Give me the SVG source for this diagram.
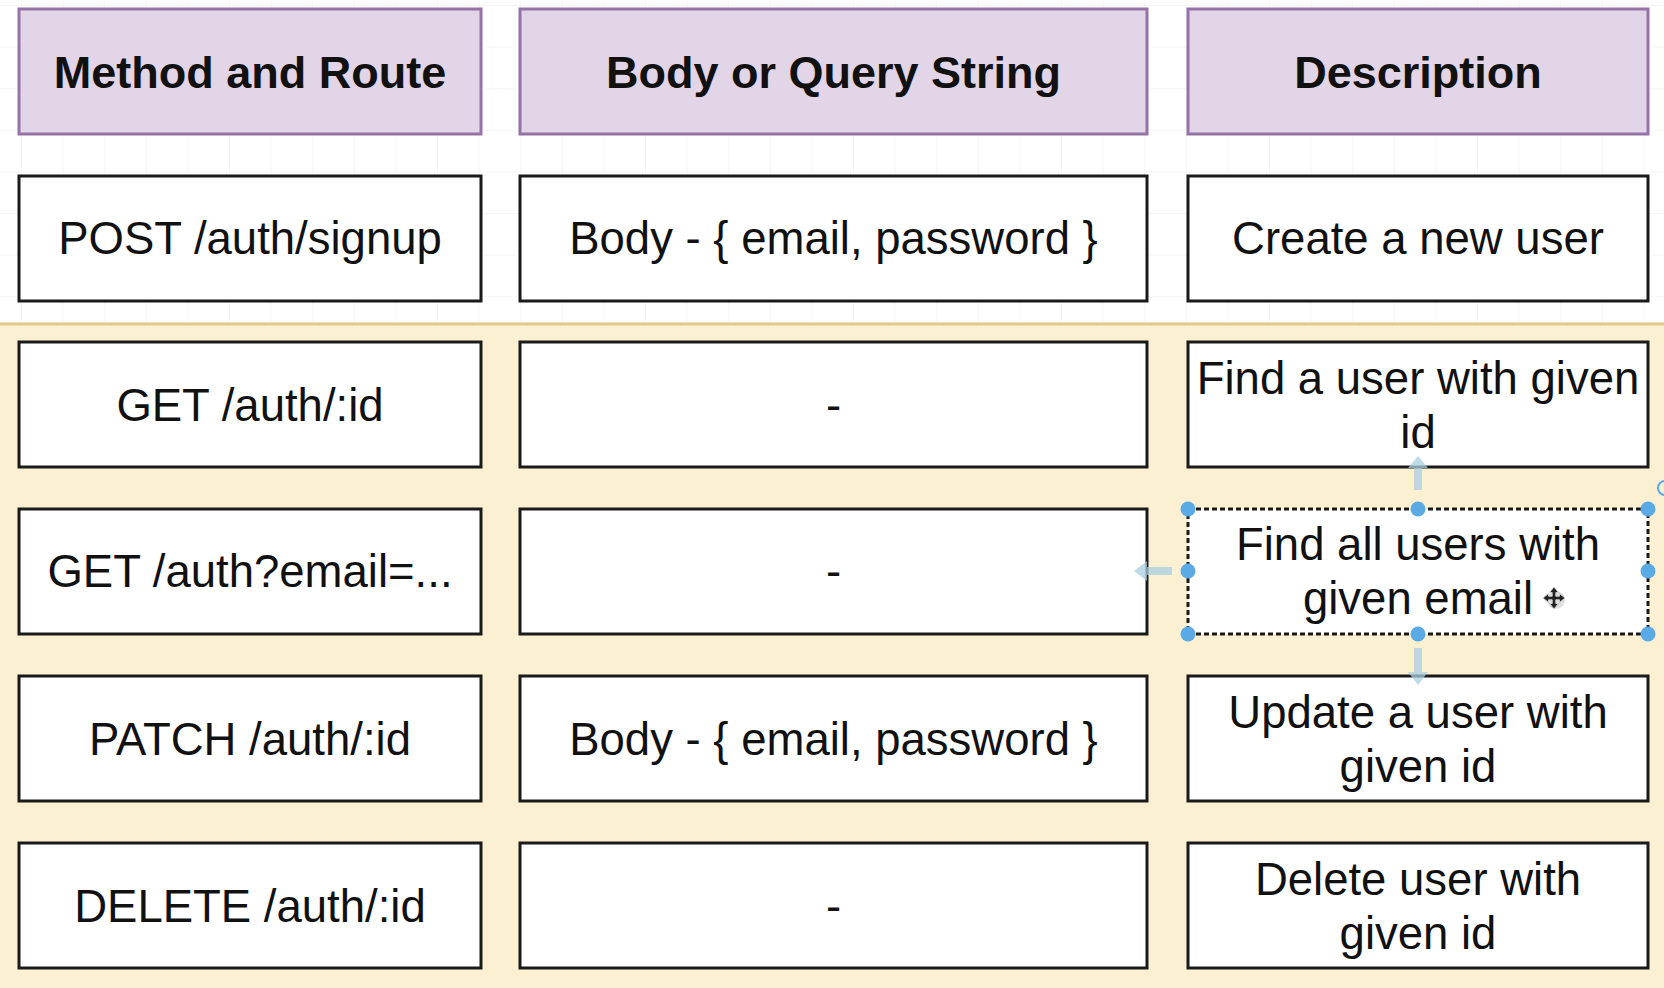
<svg xmlns="http://www.w3.org/2000/svg" width="1664" height="988" viewBox="0 0 1664 988">
  <defs>
    <pattern id="grid" patternUnits="userSpaceOnUse" x="21" y="5" width="41.6" height="41.6">
      <path d="M0 0 H41.6 M0 0 V41.6" fill="none" stroke="#ededed" stroke-width="1"/>
    </pattern>
    <style>
      .hdr { fill: #e1d5e7; stroke: #9673a6; stroke-width: 3; }
      .cell { fill: #ffffff; stroke: #1a1a1a; stroke-width: 3; }
      .sel { fill: #ffffff; stroke: #1a1a1a; stroke-width: 3; stroke-dasharray: 5 3; }
      .ht { font-family: "Liberation Sans", Arial, sans-serif; font-size: 45px; font-weight: bold; fill: #111111; text-anchor: middle; }
      .ct { font-family: "Liberation Sans", Arial, sans-serif; font-size: 45.5px; fill: #111111; text-anchor: middle; }
      .dot { fill: #5aaae6; }
      .hint { fill: #a9cfe0; opacity: 0.75; }
    </style>
  </defs>

  <rect x="0" y="0" width="1664" height="988" fill="#ffffff"/>
  <rect x="0" y="0" width="1664" height="324" fill="url(#grid)"/>
  <rect id="container" x="-10" y="324" width="1690" height="700" fill="#fcf0d2" stroke="#e3c888" stroke-width="3"/>

  <g id="h1"><rect class="hdr" x="19" y="9" width="462" height="125"/><text class="ht" x="250" y="87.5">Method and Route</text></g>
  <g id="h2"><rect class="hdr" x="520" y="9" width="627" height="125"/><text class="ht" x="833.5" y="87.5">Body or Query String</text></g>
  <g id="h3"><rect class="hdr" x="1188" y="9" width="460" height="125"/><text class="ht" x="1418" y="87.5">Description</text></g>

  <g id="r1c1"><rect class="cell" x="19" y="176" width="462" height="125"/><text class="ct" x="250" y="254">POST /auth/signup</text></g>
  <g id="r1c2"><rect class="cell" x="520" y="176" width="627" height="125"/><text class="ct" x="833.5" y="254">Body - { email, password }</text></g>
  <g id="r1c3"><rect class="cell" x="1188" y="176" width="460" height="125"/><text class="ct" x="1418" y="254">Create a new user</text></g>

  <g id="r2c1"><rect class="cell" x="19" y="342" width="462" height="125"/><text class="ct" x="250" y="420.5">GET /auth/:id</text></g>
  <g id="r2c2"><rect class="cell" x="520" y="342" width="627" height="125"/><text class="ct" x="833.5" y="420.5">-</text></g>
  <g id="r2c3"><rect class="cell" x="1188" y="342" width="460" height="125"/><text class="ct" x="1418" y="394">Find a user with given</text><text class="ct" x="1418" y="448">id</text></g>

  <g id="r3c1"><rect class="cell" x="19" y="509" width="462" height="125"/><text class="ct" x="250" y="587">GET /auth?email=...</text></g>
  <g id="r3c2"><rect class="cell" x="520" y="509" width="627" height="125"/><text class="ct" x="833.5" y="587">-</text></g>
  <g id="r3c3"><rect class="sel" x="1188" y="509" width="460" height="125"/><text class="ct" x="1418" y="560">Find all users with</text><text class="ct" x="1418" y="614">given email </text></g>

  <g id="r4c1"><rect class="cell" x="19" y="676" width="462" height="125"/><text class="ct" x="250" y="755">PATCH /auth/:id</text></g>
  <g id="r4c2"><rect class="cell" x="520" y="676" width="627" height="125"/><text class="ct" x="833.5" y="755">Body - { email, password }</text></g>
  <g id="r4c3"><rect class="cell" x="1188" y="676" width="460" height="125"/><text class="ct" x="1418" y="728">Update a user with</text><text class="ct" x="1418" y="782">given id</text></g>

  <g id="r5c1"><rect class="cell" x="19" y="843" width="462" height="125"/><text class="ct" x="250" y="921.5">DELETE /auth/:id</text></g>
  <g id="r5c2"><rect class="cell" x="520" y="843" width="627" height="125"/><text class="ct" x="833.5" y="921.5">-</text></g>
  <g id="r5c3"><rect class="cell" x="1188" y="843" width="460" height="125"/><text class="ct" x="1418" y="895">Delete user with</text><text class="ct" x="1418" y="949">given id</text></g>

  <g id="selection">
    <path class="hint" d="M1414 490 V468 H1408 L1418 456 L1428 468 H1422 V490 Z"/>
    <path class="hint" d="M1414 648 V672 H1408 L1418 685 L1428 672 H1422 V648 Z"/>
    <path class="hint" d="M1172 567 H1147 V561 L1134 571 L1147 581 V575 H1172 Z"/>
    <circle class="dot" cx="1188" cy="509" r="7.5"/>
    <circle class="dot" cx="1418" cy="509" r="7.5"/>
    <circle class="dot" cx="1648" cy="509" r="7.5"/>
    <circle class="dot" cx="1188" cy="571" r="7.5"/>
    <circle class="dot" cx="1648" cy="571" r="7.5"/>
    <circle class="dot" cx="1188" cy="634" r="7.5"/>
    <circle class="dot" cx="1418" cy="634" r="7.5"/>
    <circle class="dot" cx="1648" cy="634" r="7.5"/>
    <circle cx="1665" cy="488" r="7" fill="none" stroke="#5aaae6" stroke-width="2"/>
    <circle cx="1556" cy="600" r="9" fill="#000000" opacity="0.12"/>
    <path d="M1554 587 L1558.5 592.5 H1555.8 V596.2 H1559.5 V593.5 L1565 598 L1559.5 602.5 V599.8 H1555.8 V603.5 H1558.5 L1554 609 L1549.5 603.5 H1552.2 V599.8 H1548.5 V602.5 L1543 598 L1548.5 593.5 V596.2 H1552.2 V592.5 H1549.5 Z" fill="#222222" stroke="#cccccc" stroke-width="1"/>
  </g>
</svg>
